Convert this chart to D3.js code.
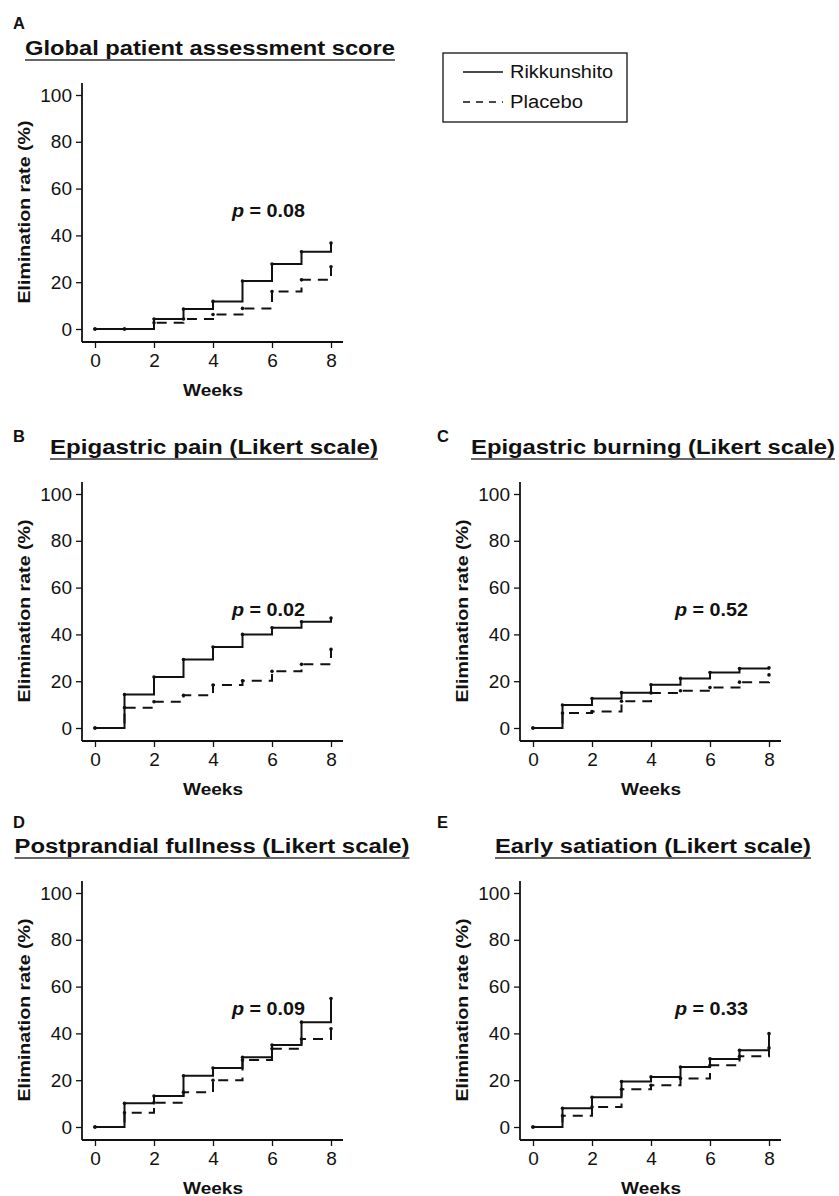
<!DOCTYPE html>
<html>
<head>
<meta charset="utf-8">
<script src="https://cdn.jsdelivr.net/npm/d3@7"></script>
<style>
  body { margin: 0; background: #fff; }
  svg { display: block; font-family: "Liberation Sans", Arial, sans-serif; }
</style>
</head>
<body>
<div id="chart"></div>
<script>
// data (elimination rate %, weeks 0..8)
var weeks = [0, 1, 2, 3, 4, 5, 6, 7, 8]

var rikA = [0, 0, 4.3, 8.5, 11.8, 20.5, 27.8, 33, 36.7]
var plaA = [0, 0, 2.7, 4.3, 6.2, 8.8, 16, 21, 26.6]

var rikB = [0, 14.3, 21.8, 29.3, 34.6, 40, 42.8, 45.4, 47]
var plaB = [0, 8.7, 11.2, 14, 18.4, 20.2, 24.2, 27.2, 33.6]

var rikC = [0, 9.8, 12.6, 15.1, 18.5, 21.2, 23.7, 25.4, 25.7]
var plaC = [0, 6.4, 7, 11.4, 15, 15.9, 17.3, 19.6, 22.7]

var rikD = [0, 10.1, 13.2, 21.9, 25.2, 29.8, 35, 44.8, 54.9]
var plaD = [0, 6.1, 10.4, 14.9, 20, 28.6, 33.4, 37.6, 42]

var rikE = [0, 8, 12.7, 19.4, 21.4, 25.6, 29.1, 32.8, 39.9]
var plaE = [0, 4.8, 8.5, 16.1, 17.8, 20.7, 26.4, 30.2, 33.8]

var panelLetters = ["A", "B", "C", "D", "E"]
var panelTitles = [
  "Global patient assessment score",
  "Epigastric pain (Likert scale)",
  "Epigastric burning (Likert scale)",
  "Postprandial fullness (Likert scale)",
  "Early satiation (Likert scale)"
]
var pValues = ["0.08", "0.02", "0.52", "0.09", "0.33"]
var seriesNames = ["Rikkunshito", "Placebo"]
var yTicks = [0, 20, 40, 60, 80, 100]
var xTicks = [0, 2, 4, 6, 8]

var rikAll = [rikA, rikB, rikC, rikD, rikE]
var plaAll = [plaA, plaB, plaC, plaD, plaE]

var W = 839, H = 1196

var svg = d3.select("#chart")
  .append("svg")
  .attr("width", W)
  .attr("height", H)

// plot origin (x of week 0, y of 100%) for each panel; tw = title width in the scan
var layout = [
  {x: 95, y: 95, titleDx: -3, tw: 370, letterX: 13, letterDy: -26},
  {x: 95, y: 494, titleDx: 1, tw: 328, letterX: 13, letterDy: -12},
  {x: 533, y: 494, titleDx: 2, tw: 364, letterX: 437, letterDy: -12},
  {x: 95, y: 893, titleDx: -1, tw: 395, letterX: 13, letterDy: -25},
  {x: 533, y: 893, titleDx: 2, tw: 316, letterX: 437, letterDy: -25}
]

var pw = 236, ph = 234, gap = 13

function draw_panel(i){
  var L = layout[i]
  var g = svg.append("g")
    .attr("transform", "translate(" + L.x + "," + L.y + ")")

  var x = d3.scaleLinear().domain([0, 8]).range([0, pw])
  var y = d3.scaleLinear().domain([0, 100]).range([ph, 0])

  // axes, R style: detached from the plot area
  var yAx = g.append("g")
    .attr("transform", "translate(" + (-gap) + ",0)")
    .call(d3.axisLeft(y).tickValues(yTicks).tickSize(6).tickSizeOuter(0).tickPadding(4))
  yAx.select(".domain").remove()
  yAx.selectAll("line").attr("stroke", "#111").attr("stroke-width", 1.3)
  yAx.selectAll("text").attr("font-size", 19).attr("fill", "#111")
    .attr("font-family", "Liberation Sans, Arial, sans-serif")

  var xAx = g.append("g")
    .attr("transform", "translate(0," + (ph + gap) + ")")
    .call(d3.axisBottom(x).tickValues(xTicks).tickSize(6).tickSizeOuter(0).tickPadding(6))
  xAx.select(".domain").remove()
  xAx.selectAll("line").attr("stroke", "#111").attr("stroke-width", 1.3)
  xAx.selectAll("text").attr("font-size", 19).attr("fill", "#111")
    .attr("font-family", "Liberation Sans, Arial, sans-serif")

  g.append("line")
    .attr("x1", -gap).attr("x2", -gap)
    .attr("y1", -12).attr("y2", ph + gap)
    .attr("stroke", "#111").attr("stroke-width", 1.8)
  g.append("line")
    .attr("x1", -gap).attr("x2", pw + 12)
    .attr("y1", ph + gap).attr("y2", ph + gap)
    .attr("stroke", "#111").attr("stroke-width", 1.8)

  g.append("text")
    .attr("x", pw / 2)
    .attr("y", ph + 67)
    .attr("text-anchor", "middle")
    .attr("font-size", 16.5)
    .attr("font-weight", "bold")
    .attr("fill", "#111")
    .attr("textLength", 60)
    .attr("lengthAdjust", "spacingAndGlyphs")
    .text("Weeks")

  g.append("text")
    .attr("transform", "translate(" + (-gap - 58) + "," + (ph / 2) + ") rotate(-90)")
    .attr("text-anchor", "middle")
    .attr("dominant-baseline", "central")
    .attr("font-size", 16.5)
    .attr("font-weight", "bold")
    .attr("fill", "#111")
    .attr("textLength", 183)
    .attr("lengthAdjust", "spacingAndGlyphs")
    .text("Elimination rate (%)")

  // step lines
  var line = d3.line()
    .x(function(d){return x(d[0])})
    .y(function(d){return y(d[1])})
    .curve(d3.curveStepAfter)

  var pla = weeks.map(function(w, k){return [w, plaAll[i][k]]})
  var rik = weeks.map(function(w, k){return [w, rikAll[i][k]]})

  g.append("path")
    .datum(pla)
    .attr("d", line)
    .attr("fill", "none")
    .attr("stroke", "#111")
    .attr("stroke-width", 2)
    .attr("stroke-dasharray", "10,7")

  g.append("path")
    .datum(rik)
    .attr("d", line)
    .attr("fill", "none")
    .attr("stroke", "#111")
    .attr("stroke-width", 2)

  g.selectAll(".dot")
    .data(rik.concat(pla))
    .enter()
    .append("circle")
    .attr("class", "dot")
    .attr("cx", function(d){return x(d[0])})
    .attr("cy", function(d){return y(d[1])})
    .attr("r", 1.8)
    .attr("fill", "#111")

  // p value
  var pt = g.append("text")
    .attr("x", i == 2 || i == 4 ? 142 : 137)
    .attr("y", y(48))
    .attr("font-size", 17.5)
    .attr("font-weight", "bold")
    .attr("fill", "#111")
    .attr("textLength", 73)
    .attr("lengthAdjust", "spacingAndGlyphs")
  pt.append("tspan").attr("font-style", "italic").text("p")
  pt.append("tspan").text(" = " + pValues[i])

  // title + underline
  var cx = L.x + pw / 2 + L.titleDx
  svg.append("text")
    .attr("x", cx)
    .attr("y", L.y - 40)
    .attr("text-anchor", "middle")
    .attr("font-size", 19.5)
    .attr("font-weight", "bold")
    .attr("fill", "#111")
    .attr("textLength", L.tw)
    .attr("lengthAdjust", "spacingAndGlyphs")
    .text(panelTitles[i])
  svg.append("line")
    .attr("x1", cx - L.tw / 2)
    .attr("x2", cx + L.tw / 2)
    .attr("y1", L.y - 35).attr("y2", L.y - 35)
    .attr("stroke", "#333").attr("stroke-width", 1.5)

  svg.append("text")
    .attr("x", L.letterX)
    .attr("y", L.y - 40 + L.letterDy)
    .attr("font-size", 16.5)
    .attr("font-weight", "bold")
    .attr("fill", "#111")
    .text(panelLetters[i])
}

d3.range(5).forEach(draw_panel)

// legend
var legendWidths = [103, 73]
var lg = svg.append("g").attr("transform", "translate(443,53)")
lg.append("rect")
  .attr("width", 184).attr("height", 69)
  .attr("fill", "none").attr("stroke", "#111").attr("stroke-width", 1.3)
seriesNames.forEach(function(name, k){
  var yy = 19 + k * 30
  lg.append("line")
    .attr("x1", 20).attr("x2", 60)
    .attr("y1", yy).attr("y2", yy)
    .attr("stroke", "#111").attr("stroke-width", 1.6)
    .attr("stroke-dasharray", k == 1 ? "7,6" : null)
  lg.append("text")
    .attr("x", 67).attr("y", yy)
    .attr("dominant-baseline", "central")
    .attr("font-size", 18)
    .attr("fill", "#111")
    .attr("textLength", legendWidths[k])
    .attr("lengthAdjust", "spacingAndGlyphs")
    .text(name)
})
</script>
</body>
</html>
